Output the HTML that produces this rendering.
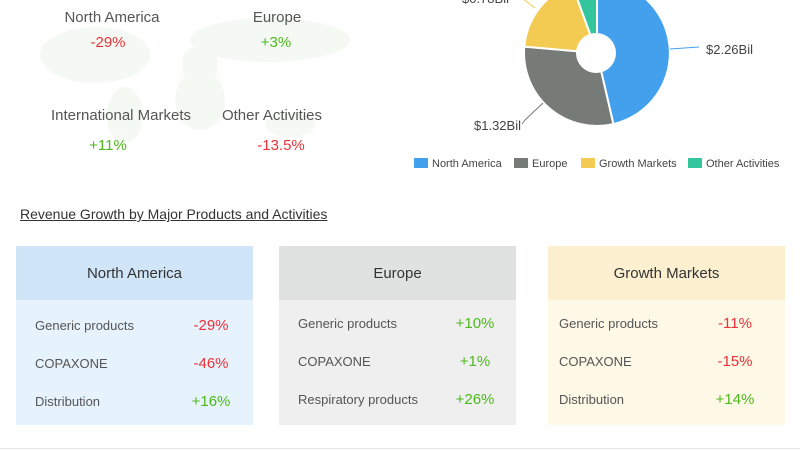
<!DOCTYPE html><html><head><style>
body{margin:0;width:800px;height:450px;background:#fff;font-family:"Liberation Sans",sans-serif;position:relative;overflow:hidden}
.a{position:absolute;white-space:nowrap}
.c{transform:translateX(-50%)}
.r{color:#e8333a}.g{color:#4cb91c}
.lab{color:#555;font-size:15px}
.card{position:absolute;top:246px;width:237px;height:179px}
.card .h{height:54px;line-height:56px;text-align:center;font-size:15px;color:#333}
.row{position:absolute;left:19px;font-size:13px;color:#555}
.pct{position:absolute;font-size:15px;transform:translateX(-50%)}
</style></head><body>
<svg class="a" style="left:0;top:0" width="400" height="180">
<g fill="#f2f7ef" opacity="0.7">
<ellipse cx="95" cy="55" rx="55" ry="28"/><ellipse cx="125" cy="115" rx="18" ry="28"/>
<ellipse cx="200" cy="65" rx="18" ry="20"/><ellipse cx="270" cy="40" rx="80" ry="22"/>
<ellipse cx="200" cy="100" rx="25" ry="30"/><ellipse cx="290" cy="125" rx="25" ry="12"/>
</g></svg>
<div class="a c lab" style="left:112px;top:9px">North America</div>
<div class="a c r" style="left:108px;top:34px;font-size:15px">-29%</div>
<div class="a c lab" style="left:277px;top:9px">Europe</div>
<div class="a c g" style="left:276px;top:34px;font-size:15px">+3%</div>
<div class="a c lab" style="left:121px;top:107px">International Markets</div>
<div class="a c g" style="left:108px;top:137px;font-size:15px">+11%</div>
<div class="a c lab" style="left:272px;top:107px">Other Activities</div>
<div class="a c r" style="left:281px;top:137px;font-size:15px">-13.5%</div>
<svg class="a" style="left:0;top:0" width="800" height="180">
<g stroke="#fff" stroke-width="2">
<path d="M597 53 L597 -20 A73 73 0 0 1 613.4 124.1Z" fill="#42a0ed"/>
<path d="M597 53 L613.4 124.1 A73 73 0 0 1 524.3 46.6Z" fill="#767b78"/>
<path d="M597 53 L524.3 46.6 A73 73 0 0 1 572 -15.6Z" fill="#f4cb52"/>
<path d="M597 53 L572 -15.6 A73 73 0 0 1 597 -20Z" fill="#33c69c"/>
</g>
<circle cx="596" cy="53" r="20" fill="#fff"/>
<path d="M670 49 L699 47" stroke="#42a0ed" fill="none"/>
<path d="M543 103 L525 120 L522 124" stroke="#767b78" fill="none"/>
<path d="M535 8 L522 -2" stroke="#f4cb52" fill="none"/>
<g font-size="13" fill="#444">
<text x="706" y="54">$2.26Bil</text>
<text x="474" y="130">$1.32Bil</text>
<text x="462" y="3">$0.78Bil</text>
</g>
<g font-size="11" fill="#444">
<rect x="414" y="158" width="14" height="10" fill="#42a0ed"/><text x="432" y="167">North America</text>
<rect x="514" y="158" width="14" height="10" fill="#767b78"/><text x="532" y="167">Europe</text>
<rect x="581" y="158" width="14" height="10" fill="#f4cb52"/><text x="599" y="167">Growth Markets</text>
<rect x="688" y="158" width="14" height="10" fill="#33c69c"/><text x="706" y="167">Other Activities</text>
</g></svg>
<div class="a" style="left:20px;top:206px;font-size:14px;color:#333;text-decoration:underline">Revenue Growth by Major Products and Activities</div>
<div class="card" style="left:16px;background:#e6f2fc"><div class="h" style="background:#d0e6f8">North America</div>
<div class="row" style="top:72px">Generic products</div><div class="pct r" style="left:195px;top:71px">-29%</div>
<div class="row" style="top:110px">COPAXONE</div><div class="pct r" style="left:195px;top:109px">-46%</div>
<div class="row" style="top:148px">Distribution</div><div class="pct g" style="left:195px;top:147px">+16%</div></div>
<div class="card" style="left:279px;background:#efefef"><div class="h" style="background:#e0e1e1">Europe</div>
<div class="row" style="top:70px">Generic products</div><div class="pct g" style="left:196px;top:69px">+10%</div>
<div class="row" style="top:108px">COPAXONE</div><div class="pct g" style="left:196px;top:107px">+1%</div>
<div class="row" style="top:146px">Respiratory products</div><div class="pct g" style="left:196px;top:145px">+26%</div></div>
<div class="card" style="left:548px;background:#fef8e7"><div class="h" style="background:#fdf0d0">Growth Markets</div>
<div class="row" style="left:11px;top:70px">Generic products</div><div class="pct r" style="left:187px;top:69px">-11%</div>
<div class="row" style="left:11px;top:108px">COPAXONE</div><div class="pct r" style="left:187px;top:107px">-15%</div>
<div class="row" style="left:11px;top:146px">Distribution</div><div class="pct g" style="left:187px;top:145px">+14%</div></div>
<div class="a" style="left:0;top:448px;width:800px;height:1px;background:#e6e6e6"></div>
</body></html>
